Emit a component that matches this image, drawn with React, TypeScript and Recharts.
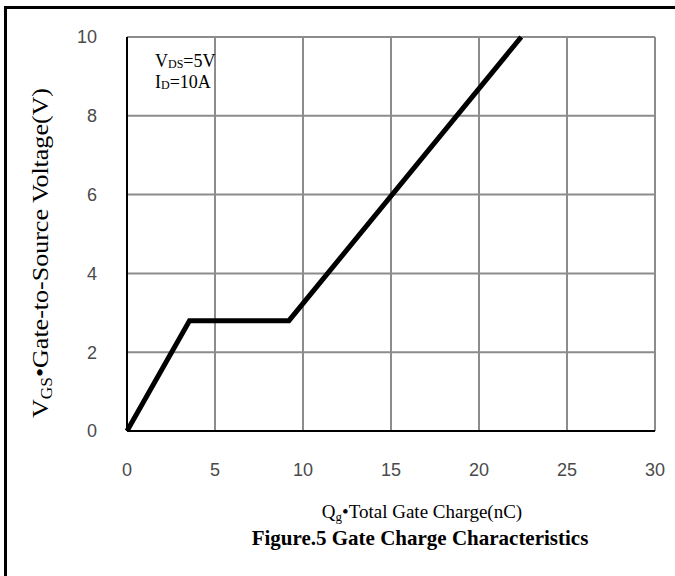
import { CartesianGrid, Customized, Line, LineChart, XAxis, YAxis } from 'recharts'

const chargeNc = [0, 3.55, 9.2, 22.4]
const gateVolts = [0, 2.8, 2.8, 10]
const xTicks = [0, 5, 10, 15, 20, 25, 30]
const yTicks = [0, 2, 4, 6, 8, 10]

const data = chargeNc.map((q, i) => ({ q, v: gateVolts[i] }))

const serif = '"Liberation Serif", "Times New Roman", serif'
const sans = '"Liberation Sans", Arial, sans-serif'

function Texts() {
  return (
    <g fontFamily={serif} fill="#000">
      <text x={155} y={67} fontSize={18}>
        V<tspan fontSize={12} dy={1}>DS</tspan>
        <tspan dy={-1}>=5V</tspan>
      </text>
      <text x={155} y={88} fontSize={18}>
        I<tspan fontSize={12} dy={1}>D</tspan>
        <tspan dy={-1}>=10A</tspan>
      </text>
      <text
        transform="translate(48, 253) rotate(-90)"
        textAnchor="middle"
        fontSize={24}
        textLength={330}
        lengthAdjust="spacingAndGlyphs"
      >
        V<tspan fontSize={16} dy={4}>GS</tspan>
        <tspan dy={-4}>•Gate-to-Source Voltage(V)</tspan>
      </text>
      <text x={422} y={518} textAnchor="middle" fontSize={19}>
        Q<tspan fontSize={13} dy={3}>g</tspan>
        <tspan dy={-3}>•Total Gate Charge(nC)</tspan>
      </text>
      <text x={420} y={545} textAnchor="middle" fontSize={21} fontWeight="bold">
        Figure.5 Gate Charge Characteristics
      </text>
    </g>
  )
}

export default function App() {
  return (
    <div style={{ position: 'absolute', left: 0, top: 0, width: 675, height: 576, background: '#fff' }}>
      <div
        style={{
          position: 'absolute',
          left: 4,
          top: 6,
          width: 671,
          height: 570,
          borderLeft: '3px solid #000',
          borderTop: '3px solid #000',
          boxSizing: 'border-box',
        }}
      />
      <LineChart
        width={675}
        height={576}
        data={data}
        margin={{ top: 37, right: 20, bottom: 85, left: 87 }}
        style={{ position: 'absolute', left: 0, top: 0 }}
      >
        <CartesianGrid stroke="#8c8c8c" strokeWidth={2} />
        <XAxis
          dataKey="q"
          type="number"
          domain={[0, 30]}
          ticks={xTicks}
          interval={0}
          stroke="#000"
          axisLine={{ stroke: '#000', strokeWidth: 2 }}
          tickLine={false}
          tickMargin={26}
          tick={{ fill: '#4a4a4a', fontSize: 18, fontFamily: sans }}
          height={60}
        />
        <YAxis
          type="number"
          domain={[0, 10]}
          ticks={yTicks}
          interval={0}
          width={40}
          axisLine={{ stroke: '#000', strokeWidth: 2 }}
          tickLine={false}
          tickMargin={24}
          tick={{ fill: '#4a4a4a', fontSize: 18, fontFamily: sans }}
        />
        <Line
          dataKey="v"
          type="linear"
          stroke="#000"
          strokeWidth={5}
          dot={false}
          isAnimationActive={false}
        />
        <Customized component={Texts} />
      </LineChart>
    </div>
  )
}
